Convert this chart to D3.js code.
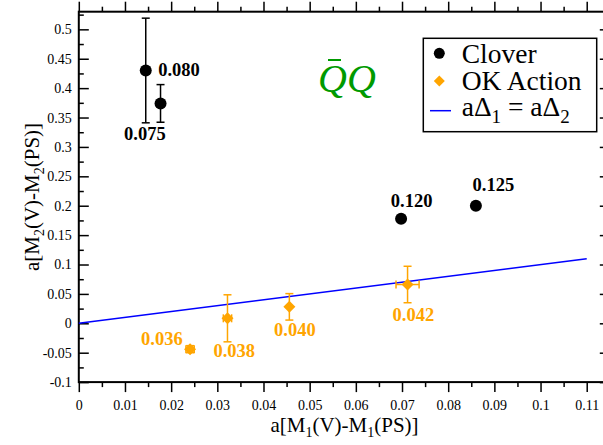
<!DOCTYPE html>
<html><head><meta charset="utf-8">
<script src="https://cdn.jsdelivr.net/npm/d3@7"></script>
<style>body{margin:0;background:#fff;overflow:hidden}svg{display:block}</style>
</head><body><svg id="c" width="603" height="445"></svg>
<script>
// ---- data ----
const cloverX = [0.0145, 0.0177, 0.0698, 0.0860];
const cloverY = [0.430, 0.374, 0.178, 0.200];
const cloverYErr = [0.089, 0.032, 0, 0];
const cloverLabels = ["0.075", "0.080", "0.120", "0.125"];
const okX = [0.0241, 0.0322, 0.0456, 0.0712];
const okY = [-0.044, 0.0085, 0.028, 0.066];
const okXErr = [0.0009, 0.0009, 0, 0.0025];
const okYErr = [0.006, 0.040, 0.0225, 0.031];
const okLabels = ["0.036", "0.038", "0.040", "0.042"];
const lineX = [0, 0.11];
const xTickLabels = ["0","0.01","0.02","0.03","0.04","0.05","0.06","0.07","0.08","0.09","0.1","0.11"];
const yTickLabels = ["-0.1","-0.05","0","0.05","0.1","0.15","0.2","0.25","0.3","0.35","0.4","0.45","0.5"];
const legendLabels = ["Clover", "OK Action"];

// ---- layout (label offsets in px, not data) ----
const cloverLabelOff = [[-21.7, 70], [-2.3, -27], [-10.3, -11.5], [-3.3, -14.3]];
const okLabelOff = [[-49, -4], [-14, 39], [-15.3, 29.3], [-15, 36.4]];

const svg = d3.select("#c");
const x = d3.scaleLinear([0, 0.115], [78.8, 609.8]);
const y = d3.scaleLinear([-0.1, 0.53], [382.1, 11.7]);
const serif = "'Liberation Serif','Times New Roman',serif";
const xT = xTickLabels.map(Number), yT = yTickLabels.map(Number);
const xMinor = d3.range(0.005, 0.115, 0.01);
const yMinor = d3.range(-0.075, 0.53, 0.05);

function styleAxis(g){
  g.attr("font-family", serif).attr("font-size", 14);
  g.select(".domain").remove();
  g.selectAll("line").attr("stroke", "#000").attr("stroke-width", 1.5);
  g.selectAll("text").attr("font-family", serif).attr("font-size", 14).attr("fill", "#000");
}
// bottom
svg.append("g").attr("transform", `translate(0,${y(-0.1)})`)
  .call(d3.axisBottom(x).tickValues(xT).tickSize(10).tickPadding(8).tickFormat((d,i)=>xTickLabels[i])).call(styleAxis);
svg.append("g").attr("transform", `translate(0,${y(-0.1)})`)
  .call(d3.axisBottom(x).tickValues(xMinor).tickSize(5).tickFormat("")).call(styleAxis);
// top
svg.append("g").attr("transform", `translate(0,${y(0.53)})`)
  .call(d3.axisTop(x).tickValues(xT).tickSize(10).tickFormat("")).call(styleAxis);
svg.append("g").attr("transform", `translate(0,${y(0.53)})`)
  .call(d3.axisTop(x).tickValues(xMinor).tickSize(5).tickFormat("")).call(styleAxis);
// left (inward)
svg.append("g").attr("transform", `translate(${x(0)},0)`)
  .call(d3.axisLeft(y).tickValues(yT).tickSize(-10).tickPadding(7).tickFormat((d,i)=>yTickLabels[i])).call(styleAxis);
svg.append("g").attr("transform", `translate(${x(0)},0)`)
  .call(d3.axisLeft(y).tickValues(yMinor).tickSize(-5).tickFormat("")).call(styleAxis);
// right (inward)
svg.append("g").attr("transform", `translate(${x(0.115)},0)`)
  .call(d3.axisRight(y).tickValues(yT).tickSize(-10).tickFormat("")).call(styleAxis);
svg.append("g").attr("transform", `translate(${x(0.115)},0)`)
  .call(d3.axisRight(y).tickValues(yMinor).tickSize(-5).tickFormat("")).call(styleAxis);

// frame
svg.append("rect").attr("x", x(0)).attr("y", y(0.53))
  .attr("width", x(0.115) - x(0)).attr("height", y(-0.1) - y(0.53))
  .attr("fill", "none").attr("stroke", "#000").attr("stroke-width", 2);

// line aΔ1 = aΔ2
svg.append("path").datum(lineX)
  .attr("d", d3.line().x(d => x(d)).y(d => y(d)))
  .attr("stroke", "#0000ff").attr("stroke-width", 1.5).attr("fill", "none");

// clover error bars + points
const cap = 4;
const cl = svg.append("g");
cloverX.forEach((cx, i) => {
  const e = cloverYErr[i];
  if (e > 0) {
    const g = cl.append("g").attr("stroke", "#000").attr("stroke-width", 1.5);
    g.append("line").attr("x1", x(cx)).attr("x2", x(cx)).attr("y1", y(cloverY[i] - e)).attr("y2", y(cloverY[i] + e));
    [cloverY[i] - e, cloverY[i] + e].forEach(v =>
      g.append("line").attr("x1", x(cx) - cap).attr("x2", x(cx) + cap).attr("y1", y(v)).attr("y2", y(v)));
  }
  cl.append("circle").attr("cx", x(cx)).attr("cy", y(cloverY[i])).attr("r", 6).attr("fill", "#000");
  cl.append("text").attr("x", x(cx) + cloverLabelOff[i][0]).attr("y", y(cloverY[i]) + cloverLabelOff[i][1])
    .attr("font-family", serif).attr("font-weight", "bold").attr("font-size", 18.5).attr("fill", "#000")
    .text(cloverLabels[i]);
});

// OK action
const orange = "#ffa500";
const ok = svg.append("g");
const diamond = (cx, cy, s) => `M${cx},${cy - s}L${cx + s},${cy}L${cx},${cy + s}L${cx - s},${cy}Z`;
okX.forEach((ox, i) => {
  const px = x(ox), py = y(okY[i]);
  const g = ok.append("g").attr("stroke", orange).attr("stroke-width", 1.5);
  const ye = okYErr[i], xe = okXErr[i];
  if (ye > 0) {
    g.append("line").attr("x1", px).attr("x2", px).attr("y1", y(okY[i] - ye)).attr("y2", y(okY[i] + ye));
    [okY[i] - ye, okY[i] + ye].forEach(v =>
      g.append("line").attr("x1", px - cap).attr("x2", px + cap).attr("y1", y(v)).attr("y2", y(v)));
  }
  if (xe > 0) {
    g.append("line").attr("y1", py).attr("y2", py).attr("x1", x(ox - xe)).attr("x2", x(ox + xe));
    [ox - xe, ox + xe].forEach(v =>
      g.append("line").attr("y1", py - cap).attr("y2", py + cap).attr("x1", x(v)).attr("x2", x(v)));
  }
  ok.append("path").attr("d", diamond(px, py, 6)).attr("fill", orange);
  ok.append("text").attr("x", px + okLabelOff[i][0]).attr("y", py + okLabelOff[i][1])
    .attr("font-family", serif).attr("font-weight", "bold").attr("font-size", 18.5).attr("fill", orange)
    .text(okLabels[i]);
});

// Q-bar Q annotation
svg.append("text").attr("x", 318).attr("y", 92)
  .attr("font-family", serif).attr("font-style", "italic").attr("font-size", 40).attr("fill", "#009a00")
  .text("QQ");
svg.append("line").attr("x1", 328).attr("x2", 341).attr("y1", 60).attr("y2", 60)
  .attr("stroke", "#009a00").attr("stroke-width", 2);

// axis titles
const xt = svg.append("text").attr("x", 344.5).attr("y", 432).attr("text-anchor", "middle")
  .attr("font-family", serif).attr("font-size", 21).attr("fill", "#000");
xt.append("tspan").text("a[M");
xt.append("tspan").attr("font-size", 14).attr("dy", 5).text("1");
xt.append("tspan").attr("dy", -5).text("(V)-M");
xt.append("tspan").attr("font-size", 14).attr("dy", 5).text("1");
xt.append("tspan").attr("dy", -5).text("(PS)]");

const yt = svg.append("text").attr("transform", "translate(39,197) rotate(-90)").attr("text-anchor", "middle")
  .attr("font-family", serif).attr("font-size", 21).attr("fill", "#000");
yt.append("tspan").text("a[M");
yt.append("tspan").attr("font-size", 14).attr("dy", 5).text("2");
yt.append("tspan").attr("dy", -5).text("(V)-M");
yt.append("tspan").attr("font-size", 14).attr("dy", 5).text("2");
yt.append("tspan").attr("dy", -5).text("(PS)]");

// legend
const lg = svg.append("g");
lg.append("rect").attr("x", 423.3).attr("y", 38.3).attr("width", 173.4).attr("height", 93.4)
  .attr("fill", "#fff").attr("stroke", "#000").attr("stroke-width", 1.5);
lg.append("circle").attr("cx", 439.3).attr("cy", 53.3).attr("r", 5.5).attr("fill", "#000");
lg.append("path").attr("d", diamond(439.3, 81, 5.5)).attr("fill", orange);
lg.append("line").attr("x1", 430).attr("x2", 451).attr("y1", 110.7).attr("y2", 110.7)
  .attr("stroke", "#0000ff").attr("stroke-width", 1.5);
[63.3, 90].forEach((b, i) => lg.append("text").attr("x", 461.7).attr("y", b)
  .attr("font-family", serif).attr("font-size", 27.5).attr("fill", "#000").text(legendLabels[i]));
const l3 = lg.append("text").attr("x", 461.7).attr("y", 116)
  .attr("font-family", serif).attr("font-size", 27.5).attr("fill", "#000");
l3.append("tspan").text("aΔ");
l3.append("tspan").attr("font-size", 19).attr("dy", 7).text("1");
l3.append("tspan").attr("dy", -7).text(" = aΔ");
l3.append("tspan").attr("font-size", 19).attr("dy", 7).text("2");
</script></body></html>
